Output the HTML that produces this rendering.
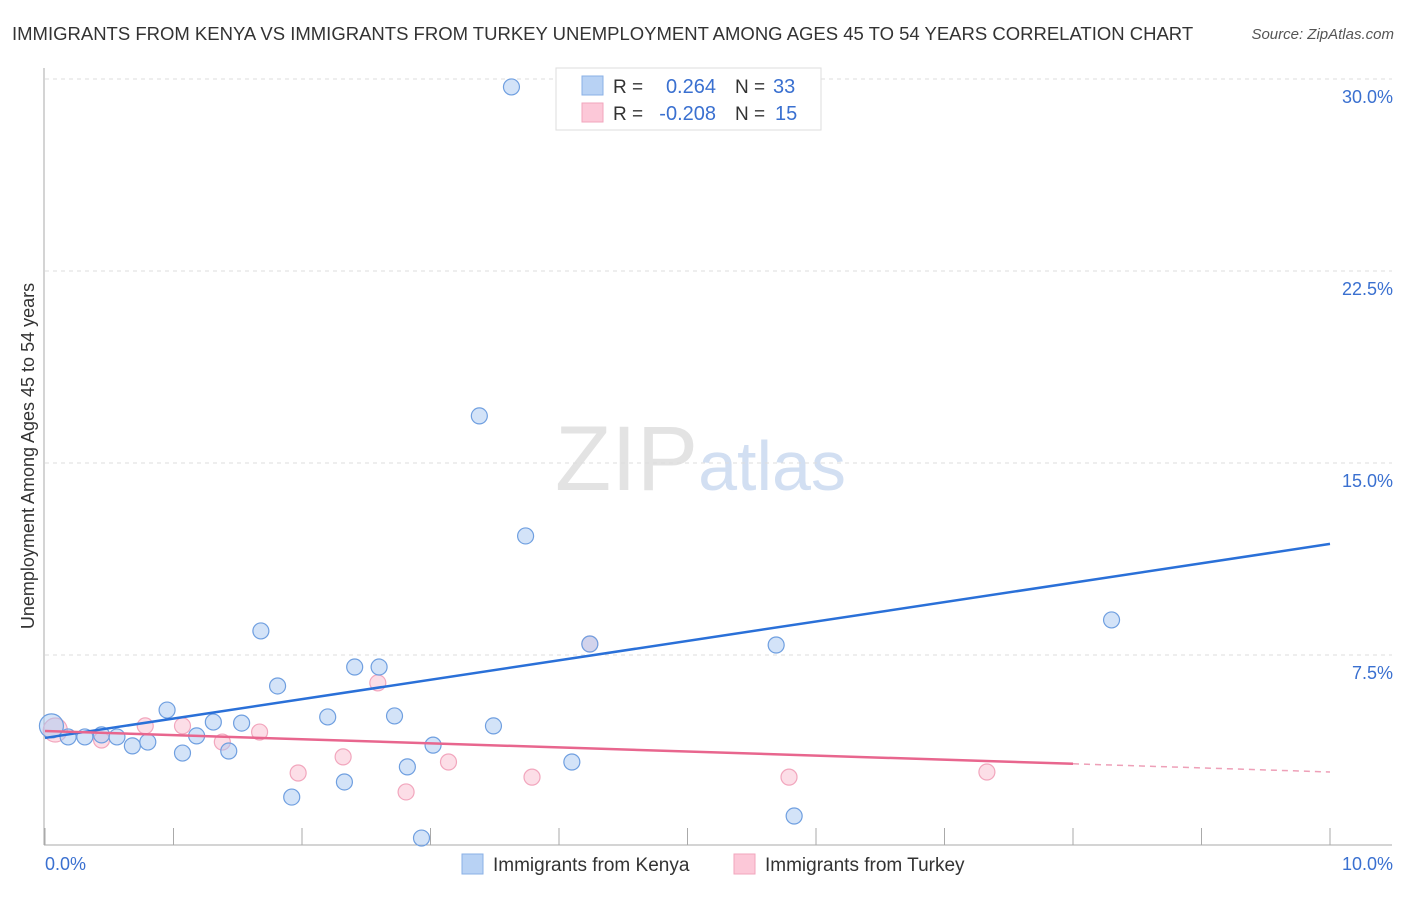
<!DOCTYPE html>
<html><head><meta charset="utf-8"><style>
body{margin:0;background:#fff;font-family:"Liberation Sans",Arial,sans-serif}
svg text{font-family:"Liberation Sans",Arial,sans-serif}
</style></head><body>
<svg id="chart" width="1406" height="892" viewBox="0 0 1406 892" xmlns="http://www.w3.org/2000/svg">
<text x="12" y="40" font-size="18.5" fill="#333">IMMIGRANTS FROM KENYA VS IMMIGRANTS FROM TURKEY UNEMPLOYMENT AMONG AGES 45 TO 54 YEARS CORRELATION CHART</text>
<text x="1394" y="39" font-size="15" fill="#555" font-style="italic" text-anchor="end">Source: ZipAtlas.com</text>
<text x="555" y="490" font-size="92" fill="#ddd" font-family="Liberation Serif" opacity="0.8">ZIP<tspan fill="#c8d8f0" font-family="Liberation Sans" font-size="70">atlas</tspan></text>
<text transform="translate(34,456) rotate(-90)" font-size="18" fill="#333" text-anchor="middle">Unemployment Among Ages 45 to 54 years</text>
<g id="grid"></g><g id="axes"></g><g id="marks"></g>
<g>
<rect x="556" y="68" width="265" height="62" fill="#fff" stroke="#ddd"/>
<rect x="582" y="76" width="21" height="19" fill="#b8d2f4" stroke="#8ab0e6"/>
<rect x="582" y="103" width="21" height="19" fill="#fcc8d8" stroke="#f2a6bd"/>
<text x="613" y="93" font-size="19" fill="#333">R =</text>
<text x="716" y="93" font-size="20" fill="#3a70d0" text-anchor="end">0.264</text>
<text x="735" y="93" font-size="19" fill="#333">N =</text>
<text x="773" y="93" font-size="20" fill="#3a70d0">33</text>
<text x="613" y="120" font-size="19" fill="#333">R =</text>
<text x="716" y="120" font-size="20" fill="#3a70d0" text-anchor="end">-0.208</text>
<text x="735" y="120" font-size="19" fill="#333">N =</text>
<text x="775" y="120" font-size="20" fill="#3a70d0">15</text>
</g>
<g>
<rect x="462" y="854" width="21" height="20" fill="#b8d2f4" stroke="#8ab0e6"/>
<text x="493" y="871" font-size="19" fill="#333">Immigrants from Kenya</text>
<rect x="734" y="854" width="21" height="20" fill="#fcc8d8" stroke="#f2a6bd"/>
<text x="765" y="871" font-size="19" fill="#333">Immigrants from Turkey</text>
</g>
</svg>
<script>
const kenyaX=[0.05,0.18,0.31,0.44,0.56,0.68,0.80,0.95,1.07,1.18,1.31,1.43,1.53,1.68,1.81,1.92,2.20,2.33,2.41,2.60,2.72,2.82,2.93,3.02,3.38,3.49,3.63,3.74,4.10,4.24,5.69,5.83,8.30];
const kenyaY=[4.73,4.30,4.30,4.38,4.30,3.95,4.10,5.35,3.67,4.34,4.88,3.75,4.84,8.44,6.29,1.95,5.08,2.54,7.03,7.03,5.12,3.13,0.35,3.98,16.84,4.73,29.69,12.15,3.32,7.93,7.89,1.21,8.87];
const turkeyX=[0.08,0.44,0.78,1.07,1.38,1.67,1.97,2.32,2.59,2.81,3.14,3.79,4.24,5.79,7.33];
const turkeyY=[4.57,4.18,4.73,4.73,4.10,4.49,2.89,3.52,6.41,2.15,3.32,2.73,7.93,2.73,2.93];
const kenyaTrend=[4.26,11.84];
const turkeyTrend=[4.53,2.93];
const turkeyTrendSolidEnd=8.0;
const yTicks=[7.5,15.0,22.5,30.0];
const yTickLabels=["7.5%","15.0%","22.5%","30.0%"];
const xTicks=[0,1,2,3,4,5,6,7,8,9,10];
const NS="http://www.w3.org/2000/svg";
const X0=45,X1=1330,Y0=847,Y1=79;
const sx=v=>X0+(v/10)*(X1-X0);
const sy=v=>Y0-(v/30)*(Y0-Y1);
function mk(tag,attrs,parent){const e=document.createElementNS(NS,tag);for(const k in attrs)e.setAttribute(k,attrs[k]);parent.appendChild(e);return e;}
const grid=document.getElementById('grid'),axes=document.getElementById('axes'),marks=document.getElementById('marks');
yTicks.forEach((t,i)=>{
 const l=mk('line',{x1:45,x2:1392,y1:sy(t),y2:sy(t),stroke:'#ddd','stroke-dasharray':'4,4'},grid);
 
 
 const tx=mk('text',{x:1393,y:sy(t)+24,'font-size':18,fill:'#3a70d0','text-anchor':'end'},grid);
 tx.textContent=yTickLabels[i];
 
 
});
const ya=mk('line',{x1:44,x2:44,y1:68,y2:845,stroke:'#aaa'},axes);


const xa=mk('line',{x1:44,x2:1392,y1:845,y2:845,stroke:'#aaa'},axes);


xTicks.forEach(t=>{
 const l=mk('line',{x1:sx(t),x2:sx(t),y1:828,y2:845,stroke:'#aaa'},axes);
 
 
});
const xl0=mk('text',{x:45,y:870,'font-size':18,fill:'#3a70d0'},axes);xl0.textContent='0.0%';


const xl1=mk('text',{x:1393,y:870,'font-size':18,fill:'#3a70d0','text-anchor':'end'},axes);xl1.textContent='10.0%';


function dots(xs,ys,fill,stroke,name){xs.forEach((x,i)=>{
 const c=mk('circle',{cx:sx(x),cy:sy(ys[i]),r:i===0?12:8,fill:fill,stroke:stroke,'stroke-width':1.2},marks);
 
 
});}
dots(turkeyX,turkeyY,'rgba(248,182,202,0.45)','#f2a6bd','turkey-point');
dots(kenyaX,kenyaY,'rgba(168,200,242,0.5)','#6f9fe0','kenya-point');
const bl=mk('line',{x1:sx(0),y1:sy(kenyaTrend[0]),x2:sx(10),y2:sy(kenyaTrend[1]),stroke:'#2a70d8','stroke-width':2.5},marks);


const py=v=>turkeyTrend[0]+(turkeyTrend[1]-turkeyTrend[0])*v/10;
const pl=mk('line',{x1:sx(0),y1:sy(turkeyTrend[0]),x2:sx(turkeyTrendSolidEnd),y2:sy(py(turkeyTrendSolidEnd)),stroke:'#e8668e','stroke-width':2.5},marks);


const pd=mk('line',{x1:sx(turkeyTrendSolidEnd),y1:sy(py(turkeyTrendSolidEnd)),x2:sx(10),y2:sy(turkeyTrend[1]),stroke:'#eea0b8','stroke-width':1.5,'stroke-dasharray':'6,5'},marks);


</script>
</body></html>
